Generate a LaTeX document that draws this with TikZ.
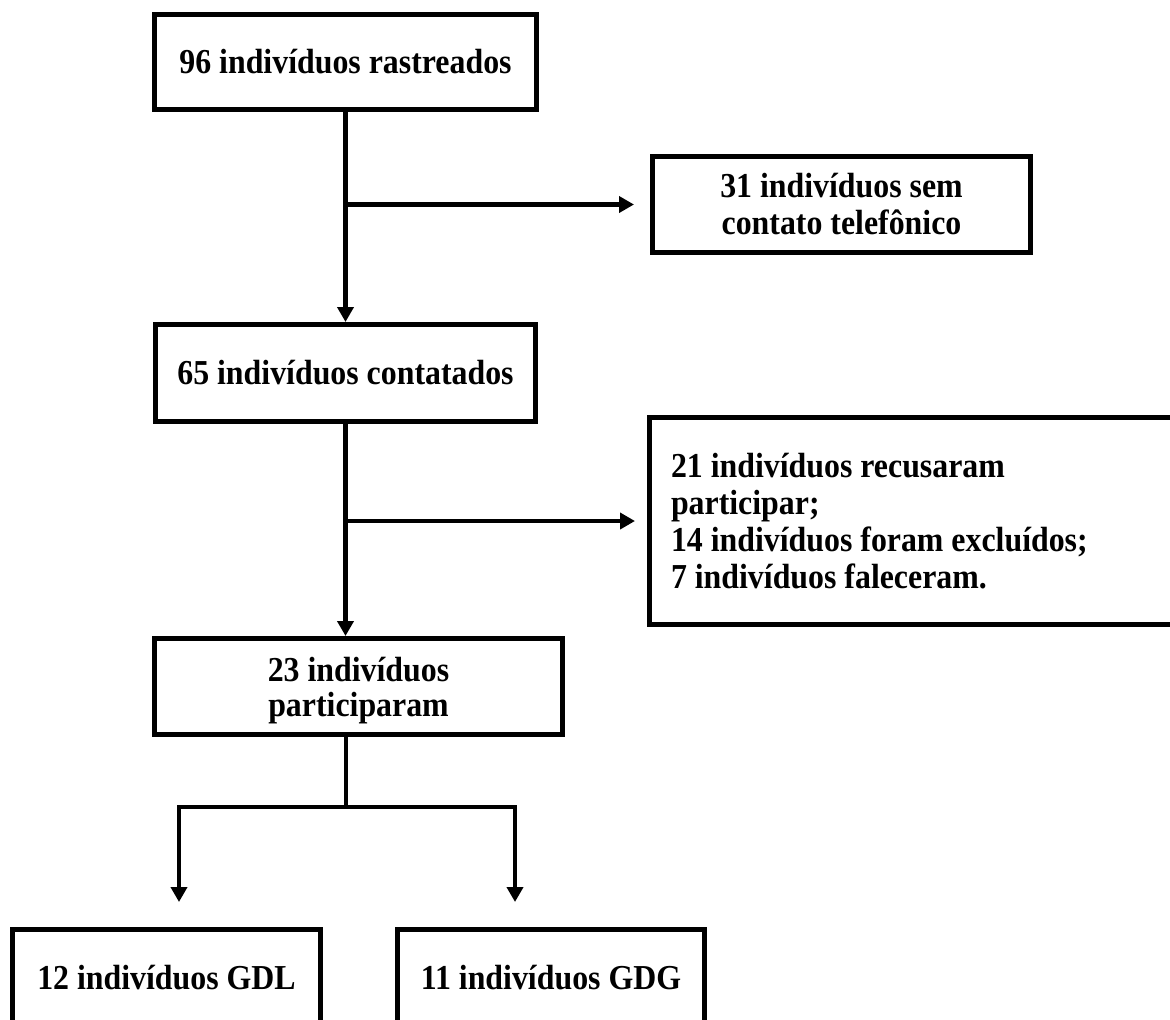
\documentclass[tikz,border=0pt]{standalone}
\usepackage{fontspec}
\setmainfont{Liberation Serif}[FakeStretch=0.91]
\usetikzlibrary{arrows.meta}
\begin{document}
\begin{tikzpicture}[x=0.5pt, y=-0.5pt,
        caixa/.style={draw, line width=2.5pt, inner sep=0pt, align=center,
            font=\fontsize{17.5}{18.5}\selectfont\bfseries},
        seta/.style={line width=2.2pt, -{Triangle[width=8pt,length=7.5pt]}},
        linha/.style={line width=2.2pt}]
            \useasboundingbox (0,0) rectangle (1170,1019);

            \node[caixa, minimum width=191pt, minimum height=47.5pt] (rastreados) at (345.5,62) {96 indivíduos rastreados};
            \node[caixa, minimum width=189pt, minimum height=48pt] (semcontato) at (841.5,204.5) {31 indivíduos sem\\contato telefônico};
            \node[caixa, minimum width=190pt, minimum height=48.5pt] (contatados) at (345.5,373) {65 indivíduos contatados};
            \node[caixa, align=flush left, text width=248.5pt, inner xsep=10.75pt, minimum height=103.5pt] (perdas) at (919.5,521)
                {21 indivíduos recusaram\\participar;\\14 indivíduos foram excluídos;\\7 indivíduos faleceram.};
            \node[caixa, minimum width=204pt, minimum height=48pt, text depth=0pt,
                font=\fontsize{17.5}{17.5}\selectfont\bfseries] (participaram) at (358.5,686.5) {23 indivíduos\\participaram};
            \node[caixa, minimum width=154pt, minimum height=47.75pt] (gdl) at (166.5,977.25) {12 indivíduos GDL};
            \node[caixa, minimum width=153.5pt, minimum height=47.75pt] (gdg) at (551,977.25) {11 indivíduos GDG};

            \coordinate (divisao) at (346,807);
            \coordinate (setagdl) at (179,902);
            \coordinate (setagdg) at (515,902);

            \draw[seta] (rastreados.south) -- (contatados.north);
            \draw[seta, shorten >=8pt] (rastreados.south |- semcontato.west) -- (semcontato.west);
            \draw[seta] (contatados.south) -- (contatados.south |- participaram.north);
            \draw[seta, shorten >=6pt] (contatados.south |- perdas.west) -- (perdas.west);
            \draw[linha] (participaram.south -| divisao) -- (divisao);
            \draw[seta] (divisao) -| (setagdl);
            \draw[seta] (divisao) -| (setagdg);
        \end{tikzpicture}
\end{document}
